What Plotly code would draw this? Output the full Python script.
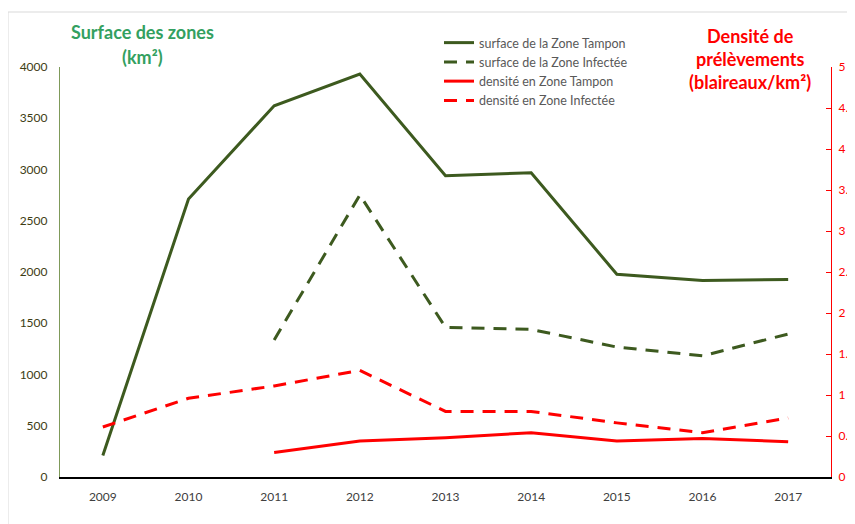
import plotly.graph_objects as go

years = ["2009", "2010", "2011", "2012", "2013", "2014", "2015", "2016", "2017"]
surface_tampon = [210, 2712, 3622, 3932, 2940, 2968, 1978, 1918, 1928]
surface_infectee = [None, None, 1337, 2751, 1460, 1440, 1268, 1182, 1395]
densite_tampon = [None, None, 0.30, 0.44, 0.48, 0.54, 0.44, 0.47, 0.43]
densite_infectee = [0.61, 0.96, 1.11, 1.30, 0.80, 0.80, 0.66, 0.54, 0.72]

left_ticks = [0, 500, 1000, 1500, 2000, 2500, 3000, 3500, 4000]
right_ticks = [0, 0.5, 1, 1.5, 2, 2.5, 3, 3.5, 4, 4.5, 5]

GREEN = "#3d5a1f"
RED = "#ff0000"
FONT = "Lato"

# page offset (body margin) and plot area in page pixels
OFF = 8
L, R, T, B = 60, 831, 67, 477
W, H = 855 - OFF, 524 - OFF
def px(x):
    return (x - L) / (R - L)
def py(y):
    return (B - y) / (B - T)

fig = go.Figure()
fig.add_trace(go.Scatter(x=years, y=surface_tampon, name="surface de la Zone Tampon",
                         mode="lines", line=dict(color=GREEN, width=3), yaxis="y"))
fig.add_trace(go.Scatter(x=years, y=surface_infectee, name="surface de la Zone Infectée",
                         mode="lines", line=dict(color=GREEN, width=3, dash="13px,9px"), yaxis="y"))
fig.add_trace(go.Scatter(x=years, y=densite_tampon, name="densité en Zone Tampon",
                         mode="lines", line=dict(color=RED, width=3), yaxis="y2"))
fig.add_trace(go.Scatter(x=years, y=densite_infectee, name="densité en Zone Infectée",
                         mode="lines", line=dict(color=RED, width=3, dash="13px,9px"), yaxis="y2"))

fig.update_layout(
    width=W, height=H,
    margin=dict(l=L - OFF, r=(855 - R), t=T - OFF, b=(524 - B), pad=0, autoexpand=False),
    paper_bgcolor="white", plot_bgcolor="white",
    font=dict(family=FONT, size=12, color="#404040"),
    showlegend=True,
    legend=dict(x=px(439), y=py(28), xanchor="left", yanchor="top",
                bgcolor="rgba(0,0,0,0)", font=dict(size=12.5, color="#595959"),
                tracegroupgap=0, itemwidth=30),
    xaxis=dict(type="category", range=[-0.5, 8.5], showgrid=False, showline=True,
               linecolor="#000000", linewidth=1.5, ticks="",
               tickfont=dict(size=12, color="#404040"), ticklabelstandoff=8,
               zeroline=False),
    yaxis=dict(range=[0, 4000], tickvals=left_ticks, showgrid=False, showline=True,
               linecolor="#7f9a5a", linewidth=1.2, ticks="", zeroline=False,
               tickfont=dict(size=12, color="#3d3d14"), ticklabelstandoff=9),
    yaxis2=dict(range=[0, 5], tickvals=right_ticks, overlaying="y", side="right",
                showgrid=False, showline=True, linecolor=RED, linewidth=1.2,
                ticks="inside", ticklen=5, tickcolor=RED, zeroline=False,
                tickfont=dict(size=12, color=RED), ticklabelstandoff=4),
)

# chart border (light gray)
fig.add_shape(type="rect", xref="paper", yref="paper",
              x0=px(8), x1=px(900), y0=py(600), y1=py(12),
              line=dict(color="#d9d9d9", width=1), layer="below")

ann = [
    ("Surface des zones", 142, 32, "#33a060"),
    ("(km²)", 142, 57, "#33a060"),
    ("Densité de", 750, 36, RED),
    ("prélèvements", 750, 59, RED),
    ("(blaireaux/km²)", 750, 82, RED),
]
for text, x, y, c in ann:
    fig.add_annotation(text="<b>%s</b>" % text, x=px(x), y=py(y), xref="paper", yref="paper",
                       xanchor="center", yanchor="middle", showarrow=False,
                       font=dict(family=FONT, size=18, color=c))

fig.write_html("out.html")
